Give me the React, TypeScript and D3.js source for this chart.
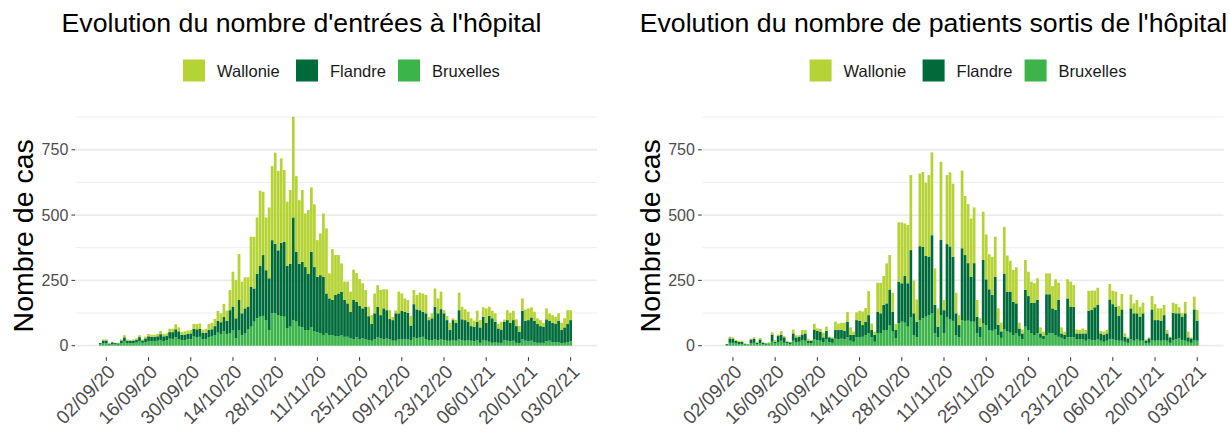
import React from 'react';
import * as d3 from 'd3';

// ---- categories ----
const START_DATE = '31/08/20';
const N_DAYS = 157;
const REGIONS = ['Wallonie', 'Flandre', 'Bruxelles'];
const TICK_LABELS = ['02/09/20', '16/09/20', '30/09/20', '14/10/20', '28/10/20', '11/11/20', '25/11/20', '09/12/20', '23/12/20', '06/01/21', '20/01/21', '03/02/21'];
const Y_TICKS = [0, 250, 500, 750];
const Y_MINOR = [125, 375, 625, 875];

// ---- admissions (entrées) ----
const admBruxelles = [
  5,10,9,4,6,5,4,10,16,10, 9,10,12,17,11,14,18,17,18,19, 22,18,20,27,26,33,25,22,22,24, 25,35,33,34,25,26,33,35,40,50, 45,55,45,
  47,60,28,60,41,47,62,73,92,105, 111,114,98,60,124,124,117,113,111,66, 73,98,92,73,70,60,60,70,54,51, 47,41,47,41,41,37,37,41,34,34,
  28,24,32,24,28,24,22,19,24,32, 28,24,27,24,19,19,24,24,24,24, 22,32,28,31,34,24,22,22,24,22, 24,22,19,19,22,19,24,22,19,22, 19,17,22,
  11,22,19,15,11,14,11,11,22,19, 17,19,11,9,24,19,17,19,14,11, 11,11,17,19,13,14,14,9,11,14, 17
];
const admFlandre = [
  5,10,11,4,7,5,5,10,16,9, 9,10,11,16,9,14,18,17,16,17, 22,18,17,25,26,30,30,20,20,21, 22,30,30,30,25,24,28,28,35,45, 45,55,50,
  89,90,77,115,83,96,88,153,127,171, 194,233,191,198,280,266,248,281,286,239, 241,393,268,241,251,241,216,289,247,212, 223,222,153,140,134,157,163,166,141,128,
  102,151,136,129,115,125,91,64,100,117, 89,119,109,78,79,105,100,109,106,102, 55,127,111,105,96,100,76,83,125,102, 116,102,79,41,76,69,112,79,79,70, 56,56,70,
  59,89,69,99,94,78,55,51,70,79, 71,79,64,45,110,77,81,89,82,72, 64,62,84,77,75,71,82,51,59,69, 81
];
const admWallonie = [
  1,4,4,1,2,1,2,4,8,5, 4,4,5,7,4,7,9,8,8,9, 12,9,10,13,13,19,15,10,13,13, 13,18,20,21,12,15,22,25,27,38, 34,50,39,
  77,133,146,176,121,119,112,191,198,215, 288,242,202,271,283,349,304,323,275,246, 282,385,289,243,275,205,243,247,240,141, 160,243,249,96,195,153,147,108,70,83,
  77,116,110,102,96,64,36,34,76,83, 96,73,80,34,12,11,83,67,51,49, 37,54,55,67,70,70,12,19,70,57, 67,12,16,28,7,10,67,48,41,38, 30,23,42,
  28,36,55,35,29,32,17,30,8,38, 38,36,26,21,47,43,45,39,34,22, 23,15,42,28,29,26,28,28,35,53, 38
];

// ---- discharges (sorties) ----
const outBruxelles = [
  3,11,11,9,6,6,3,3,9,11, 6,9,6,4,6,15,9,14,19,11, 9,6,19,14,15,22,19,9,9,24, 22,19,14,24,14,11,27,24,27,24, 32,19,15,32,32,34,41,47,32,15,
  47,47,60,60,77,54,28,86,92,88, 73,108,41,32,98,105,111,117,124,47, 32,117,47,110,100,95,41,32,98,95, 96,92,92,47,32,85,79,60,57,62,
  40,30,62,54,50,41,47,35,25,73, 60,47,41,47,30,25,41,47,47,41, 34,30,24,32,32,32,24,24,24,19, 24,22,22,24,19,15,19,24,24,22,
  19,19,15,11,24,19,25,19,19,9, 11,22,19,22,19,22,19,11,22,24, 28,22,19,15,11,22,19
];
const outFlandre = [
  3,17,16,9,9,9,3,2,15,15, 5,15,5,5,3,28,6,23,22,21, 6,7,28,18,19,21,28,10,10,38, 35,35,18,33,18,17,33,36,33,33, 60,22,26,66,64,45,51,70,28,26,
  83,77,96,102,138,76,32,159,147,179, 166,258,83,60,283,274,233,224,299,109, 41,288,89,279,280,245,83,47,275,252, 220,172,224,63,41,243,175,156,137,201,
  40,25,214,153,157,127,115,31,22,141, 130,118,124,128,17,12,156,150,96,96, 141,17,17,149,118,117,23,23,23,28, 110,115,125,132,28,26,28,153,135,127,
  95,120,19,17,119,105,99,92,105,11, 17,117,79,76,77,95,28,21,104,100, 96,89,105,17,17,117,77
];
const outWallonie = [
  0,6,5,4,4,4,3,1,3,6, 4,5,4,2,4,8,7,6,15,5, 4,2,15,8,6,17,13,7,3,22, 9,11,18,16,3,4,32,25,28,31, 37,29,13,30,38,52,52,92,25,13,
  111,117,111,153,132,73,23,227,233,201, 223,287,125,85,278,286,280,312,317,140, 70,299,39,264,284,280,79,38,297,226, 226,223,213,65,32,185,172,134,146,154,
  63,33,179,138,118,122,138,22,15,114, 93,80,74,83,23,17,80,80,85,117, 66,23,13,73,95,83,15,13,19,13, 76,74,64,66,10,13,13,59,51,58,
  38,59,13,4,53,38,51,38,41,4, 4,51,61,45,47,39,13,3,39,36, 23,13,44,22,4,49,41
];

const COLORS: Record<string, string> = {
  Wallonie: '#B5D334',
  Flandre: '#006B3A',
  Bruxelles: '#3BB44A',
};

const FONT = "'Liberation Sans', Arial, sans-serif";
const parse = d3.utcParse('%d/%m/%y');
const DAY = 86400000;

type Row = { date: Date; Wallonie: number; Flandre: number; Bruxelles: number };

function buildRows(w: number[], f: number[], b: number[]): Row[] {
  const start = parse(START_DATE) as Date;
  const dates = d3.utcDay.range(start, d3.utcDay.offset(start, N_DAYS));
  return dates.map((date, i) => ({ date, Wallonie: w[i] ?? 0, Flandre: f[i] ?? 0, Bruxelles: b[i] ?? 0 }));
}

const PANEL = { left: 76, right: 597, top: 104.3, bottom: 357.2 };

function Chart({ rows, title, ox, titleCx }: { rows: Row[]; title: string; ox: number; titleCx: number }) {
  const start = parse(START_DATE) as Date;
  const x = d3
    .scaleUtc()
    .domain([new Date(start.getTime() - 8.06 * DAY), new Date(start.getTime() + 164.74 * DAY)])
    .range([PANEL.left + ox, PANEL.right + ox]);
  const y = d3.scaleLinear().domain([-44, 924]).range([PANEL.bottom, PANEL.top]);
  const bw = 3.015 * 0.9;
  const stack = d3.stack<Row>().keys(['Bruxelles', 'Flandre', 'Wallonie']);
  const series = stack(rows);
  const ticks = TICK_LABELS.map((l) => ({ label: l, date: parse(l) as Date }));
  const legendX = [183, 296, 398];

  return (
    <g>
      <text x={titleCx} y={32} textAnchor="middle" fontSize={26.67} fontFamily={FONT} fill="#000">
        {title}
      </text>
      {REGIONS.map((r, i) => (
        <g key={r}>
          <rect x={legendX[i] + ox} y={59.5} width={22} height={22} fill={COLORS[r]} />
          <text x={legendX[i] + ox + 34} y={76.5} fontSize={16.5} fontFamily={FONT} fill="#1A1A1A">
            {r}
          </text>
        </g>
      ))}
      {Y_MINOR.map((v) => (
        <line key={'m' + v} x1={PANEL.left + ox} x2={PANEL.right + ox} y1={y(v)} y2={y(v)} stroke="#EBEBEB" strokeWidth={0.9} />
      ))}
      {Y_TICKS.map((v) => (
        <g key={'t' + v}>
          <line x1={PANEL.left + ox} x2={PANEL.right + ox} y1={y(v)} y2={y(v)} stroke="#EBEBEB" strokeWidth={1.8} />
          <line x1={PANEL.left + ox - 4.5} x2={PANEL.left + ox - 0.8} y1={y(v)} y2={y(v)} stroke="#333" strokeWidth={1} />
          <text x={PANEL.left + ox - 7.7} y={y(v) + 5.6} textAnchor="end" fontSize={16} fontFamily={FONT} fill="#4D4D4D">
            {v}
          </text>
        </g>
      ))}
      {series.map((s) => (
        <g key={s.key} fill={COLORS[s.key]}>
          {s.map((d, i) => (
            <rect key={i} x={x(d.data.date) - bw / 2} width={bw} y={y(d[1])} height={Math.max(0, y(d[0]) - y(d[1]))} />
          ))}
        </g>
      ))}
      {ticks.map((t) => {
        const tx = x(t.date);
        return (
          <g key={t.label}>
            <line x1={tx} x2={tx} y1={PANEL.bottom} y2={PANEL.bottom + 3.7} stroke="#333" strokeWidth={1} />
            <text
              transform={`translate(${tx + 10},${373}) rotate(-45)`}
              textAnchor="end"
              fontSize={19}
              fontFamily={FONT}
              fill="#4D4D4D"
            >
              {t.label}
            </text>
          </g>
        );
      })}
      <text
        transform={`translate(${33.3 + ox},${235.8}) rotate(-90)`}
        textAnchor="middle"
        fontSize={28.5}
        fontFamily={FONT}
        fill="#000"
      >
        Nombre de cas
      </text>
    </g>
  );
}

export default function App() {
  const adm = buildRows(admWallonie, admFlandre, admBruxelles);
  const out = buildRows(outWallonie, outFlandre, outBruxelles);
  return (
    <svg
      width={1230}
      height={435}
      viewBox="0 0 1230 435"
      style={{ position: 'absolute', left: 0, top: 0, background: '#fff', display: 'block' }}
    >
      <rect width={1230} height={435} fill="#fff" />
      <Chart rows={adm} title="Evolution du nombre d'entrées à l'hôpital" ox={0} titleCx={301.5} />
      <Chart rows={out} title="Evolution du nombre de patients sortis de l'hôpital" ox={626.6} titleCx={933.5} />
    </svg>
  );
}
